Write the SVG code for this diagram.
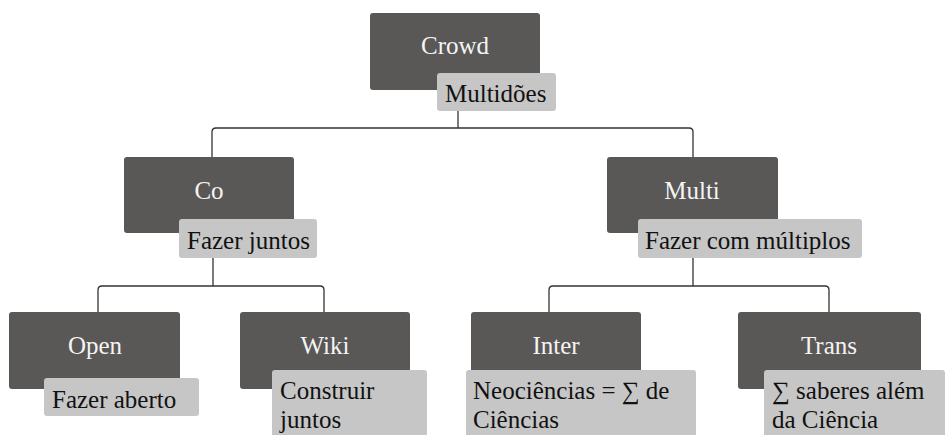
<svg xmlns="http://www.w3.org/2000/svg" width="947" height="435" viewBox="0 0 947 435">
<style>
.node{fill:#595856;}
.lab{fill:#c6c6c6;}
.nt{font-size:25px;fill:#f4f4f4;text-anchor:middle;}
.lt{font-size:25px;fill:#111111;}
.con{fill:none;stroke:#333333;stroke-width:1.3;}
</style>
<rect width="947" height="435" fill="#ffffff"/>
<g id="connectors">
<path class="con" d="M458,111 V128"/>
<path class="con" d="M212,157 V132 Q212,128 216,128 H689 Q693,128 693,132 V157"/>
<path class="con" d="M213,258 V286"/>
<path class="con" d="M98,312 V290 Q98,286 102,286 H320 Q324,286 324,290 V312"/>
<path class="con" d="M693,258 V286"/>
<path class="con" d="M549,312 V290 Q549,286 553,286 H825 Q829,286 829,290 V312"/>
</g>
<g font-family="Liberation Serif, Times New Roman, serif">
<g id="crowd">
<rect class="node" x="370" y="13" width="170" height="77" rx="3"/>
<text class="nt" x="455" y="54">Crowd</text>
<rect class="lab" x="437" y="73" width="119" height="38" rx="3"/>
<text class="lt" x="445" y="102">Multidões</text>
</g>
<g id="co">
<rect class="node" x="124" y="157" width="170" height="76" rx="3"/>
<text class="nt" x="209" y="199">Co</text>
<rect class="lab" x="179" y="219" width="138" height="39" rx="3"/>
<text class="lt" x="187" y="249">Fazer juntos</text>
</g>
<g id="multi">
<rect class="node" x="607" y="157" width="171" height="76" rx="3"/>
<text class="nt" x="692" y="199">Multi</text>
<rect class="lab" x="638" y="219" width="224" height="39" rx="3"/>
<text class="lt" x="645" y="249">Fazer com múltiplos</text>
</g>
<g id="open">
<rect class="node" x="9" y="312" width="171" height="77" rx="3"/>
<text class="nt" x="95" y="354">Open</text>
<rect class="lab" x="44" y="378" width="155" height="38" rx="3"/>
<text class="lt" x="52" y="408">Fazer aberto</text>
</g>
<g id="wiki">
<rect class="node" x="240" y="312" width="170" height="77" rx="3"/>
<text class="nt" x="325" y="354">Wiki</text>
<rect class="lab" x="272" y="370" width="155" height="80" rx="3"/>
<text class="lt" x="280" y="399">Construir</text>
<text class="lt" x="280" y="428">juntos</text>
</g>
<g id="inter">
<rect class="node" x="471" y="312" width="170" height="77" rx="3"/>
<text class="nt" x="556" y="354">Inter</text>
<rect class="lab" x="466" y="370" width="230" height="80" rx="3"/>
<text class="lt" x="473" y="399">Neociências = ∑ de</text>
<text class="lt" x="473" y="428">Ciências</text>
</g>
<g id="trans">
<rect class="node" x="738" y="312" width="183" height="77" rx="3"/>
<text class="nt" x="829" y="354">Trans</text>
<rect class="lab" x="764" y="370" width="181" height="80" rx="3"/>
<text class="lt" x="772" y="399">∑ saberes além</text>
<text class="lt" x="772" y="428">da Ciência</text>
</g>
</g>
</svg>
